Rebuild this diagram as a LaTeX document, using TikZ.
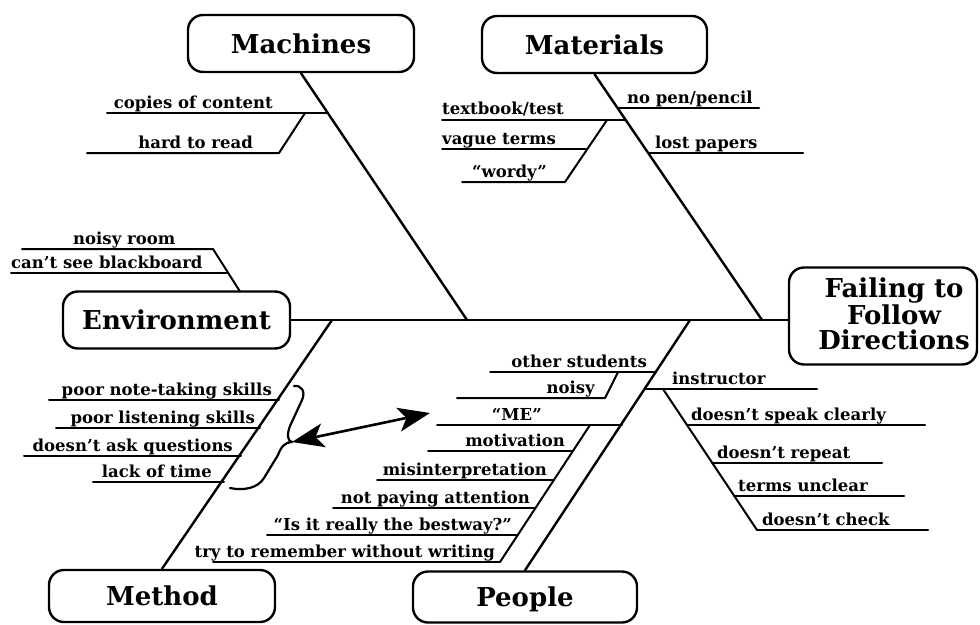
\documentclass[tikz,border=0pt]{standalone}
\usepackage{fontspec}
\setmainfont{DejaVu Serif}
\usetikzlibrary{arrows.meta}
\tikzset{
  catbox/.style={draw, line width=2.4pt, rounded corners=15pt, inner sep=0pt, text depth=0pt, font=\fontsize{26}{28}\selectfont\bfseries},
  head/.style={align=center, inner sep=0pt, font=\fontsize{26}{25.5}\selectfont\bfseries},
  cause/.style={inner sep=0pt, font=\fontsize{16.5}{17}\selectfont\bfseries},
  bone/.style={line width=2.4pt},
  twig/.style={line width=2pt},
}
\begin{document}
\begin{tikzpicture}[x=1pt, y=-1pt, line join=round, line cap=round]
\useasboundingbox (0,0) rectangle (980,624);
% category boxes and effect
\node[catbox, minimum width=226pt, minimum height=57pt] (machines) at (301,43.5) {Machines};
\node[catbox, minimum width=225pt, minimum height=57pt] (materials) at (594.5,44.5) {Materials};
\node[catbox, minimum width=227pt, minimum height=57pt] (environment) at (176.5,320) {Environment};
\node[catbox, minimum width=226pt, minimum height=52pt] (method) at (162,596) {Method};
\node[catbox, minimum width=224pt, minimum height=51pt] (people) at (525,597) {People};
\node[catbox, minimum width=188pt, minimum height=97pt] (effect) at (883,316) {};
\node[head] (effecttext) at (894,314) {Failing to\\Follow\\Directions};
% spine and main bones
\coordinate (machj) at (467,320);
\coordinate (matj) at (762,320);
\coordinate (methj) at (332,320);
\coordinate (peoj) at (690,320);
\draw[bone] (environment.east) -- (environment.east -| effect.west);
\draw[bone] (machines.south) -- (machj);
\draw[bone] (materials.south) -- (matj);
\draw[bone] (methj) -- (method.north);
\draw[bone] (peoj) -- (people.north);
% machines
\draw[twig] (107,113) -- (328,113);
\draw[twig] (87,153) -- (279,153) -- (305,113);
\node[cause, anchor=base east] (copies) at (273,108) {copies of content};
\node[cause, anchor=base east] (hard) at (253,148) {hard to read};
% materials
\draw[twig] (442,120) -- (626,120);
\draw[twig] (442,149) -- (587,149);
\draw[twig] (462,182) -- (565,182) -- (607,120);
\draw[twig] (618,108) -- (759,108);
\draw[twig] (649,153) -- (803,153);
\node[cause, anchor=base west] (textbook) at (442,114) {textbook/test};
\node[cause, anchor=base west] (vague) at (442,144) {vague terms};
\node[cause, anchor=base west] (wordy) at (472,177) {``wordy''};
\node[cause, anchor=base west] (nopen) at (627,103) {no pen/pencil};
\node[cause, anchor=base west] (lost) at (655,148) {lost papers};
% environment
\draw[twig] (22,249) -- (213,249) -- (240,291.5);
\draw[twig] (11,273) -- (228,273);
\node[cause, anchor=base west] (noisyroom) at (73,244) {noisy room};
\node[cause, anchor=base west] (blackboard) at (11,268) {can't see blackboard};
% method
\foreach \y/\xl/\xr/\xt/\txt in {400/49/279/272/poor note-taking skills, 428/56/260/255/poor listening skills, 456/24/241/233/doesn't ask questions, 482/93/224/212/lack of time}
  {\draw[twig] (\xl,\y) -- (\xr,\y);
   \node[cause, anchor=base east] (meth\y) at (\xt,\y-5) {\txt};}
\draw[line width=2.2pt] (294,386) .. controls (301,385) and (306,391) .. (302,400) -- (290,426)
  .. controls (287,434) and (287,441) .. (292,442) .. controls (285,442) and (281,447) .. (278,455)
  -- (264,478) .. controls (258,488) and (244,491) .. (230,488);
\coordinate (bracetip) at (292,442);
\coordinate (metip) at (430,413);
\draw[line width=2.6pt, {Stealth[length=32pt,width=24pt,inset=8pt]}-{Stealth[length=32pt,width=24pt,inset=8pt]}] (bracetip) -- (metip);
% people
\foreach \y/\xl/\xr/\xt/\txt in {372/490/656/647/other students, 425/437/622/542/``ME'', 451/428/573/565/motivation, 480/377/554/547/misinterpretation, 508/333/535/530/not paying attention, 535/267/518/512/``Is it really the bestway?'', 562/213/500/495/try to remember without writing}
  {\draw[twig] (\xl,\y) -- (\xr,\y);
   \node[cause, anchor=base east] (peo\y) at (\xt,\y-5) {\txt};}
\draw[twig] (457,398) -- (605,398) -- (618,372);
\node[cause, anchor=base east] (noisy) at (595,393) {noisy};
\draw[twig] (590,425) -- (500,562);
\draw[twig] (645,389) -- (817,389);
\draw[twig] (663,389) -- (757,530);
\node[cause, anchor=base west] (instructor) at (672,384) {instructor};
\foreach \y/\xl/\xr/\xt/\txt in {425/687/925/691/doesn't speak clearly, 463/712/882/717/doesn't repeat, 496/734/904/738/terms unclear, 530/757/928/762/doesn't check}
  {\draw[twig] (\xl,\y) -- (\xr,\y);
   \node[cause, anchor=base west] (ins\y) at (\xt,\y-5) {\txt};}
\end{tikzpicture}
\end{document}
